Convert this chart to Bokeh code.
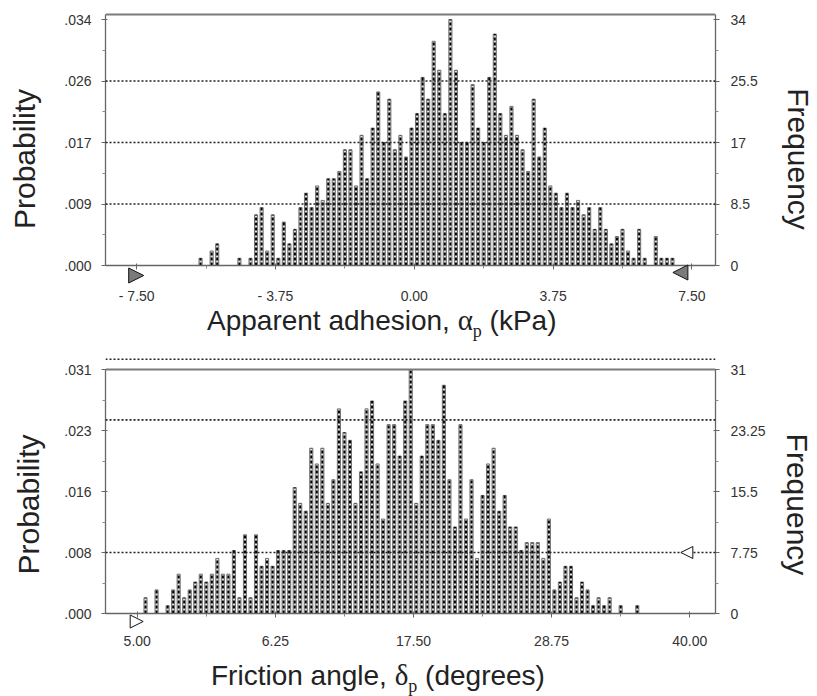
import numpy as np
from bokeh.plotting import figure
from bokeh.models import (LinearAxis, FixedTicker, Span, Arrow, NormalHead, Div,
                          ColumnDataSource, Range1d)
from bokeh.layouts import column
from bokeh.embed import file_html
from bokeh.resources import INLINE

# ---------------- data ----------------
# Panel 1: apparent adhesion (kPa), 100 bins from -7.5 to 7.5, frequencies out of 1000
adh_limits = [-7.5, 7.5]
adh_freq = [0, 0, 0, 0, 0, 0, 0, 0, 0, 0,
            0, 1, 0, 2, 3, 0, 0, 0, 1, 0,
            1, 7, 8, 2, 7, 1, 6, 3, 5, 8,
            10, 8, 11, 9, 12, 12, 13, 16, 16, 11,
            18, 12, 19, 24, 17, 23, 16, 18, 15, 19,
            21, 26, 23, 31, 27, 21, 34, 27, 17, 17,
            25, 19, 17, 26, 32, 21, 18, 22, 18, 16,
            13, 23, 15, 19, 11, 10, 8, 10, 8, 9,
            7, 8, 5, 8, 5, 3, 4, 5, 2, 1,
            5, 1, 0, 4, 1, 1, 1, 0, 0, 0]
adh_xtick_labels = ["- 7.50", "- 3.75", "0.00", "3.75", "7.50"]
adh_freq_ticks = [0, 8.5, 17, 25.5, 34]
adh_prob_labels = [".000", ".009", ".017", ".026", ".034"]
adh_freq_labels = ["0", "8.5", "17", "25.5", "34"]
adh_grid = [8.5, 17, 25.5]

# Panel 2: friction angle (degrees), 100 bins from 5 to 40
fric_limits = [5.0, 40.0]
fric_freq = [0, 2, 0, 3, 0, 1, 3, 5, 2, 3,
             4, 5, 4, 5, 7, 5, 5, 8, 2, 10,
             2, 10, 6, 7, 6, 8, 8, 8, 16, 14,
             13, 21, 19, 21, 14, 17, 26, 23, 22, 14,
             18, 26, 27, 19, 12, 24, 24, 20, 27, 31,
             14, 20, 24, 24, 22, 29, 17, 11, 24, 12,
             17, 7, 15, 19, 21, 13, 15, 11, 11, 8,
             9, 9, 9, 7, 12, 3, 4, 6, 6, 2,
             4, 3, 1, 2, 1, 2, 0, 1, 0, 0,
             1, 0, 0, 0, 0, 0, 0, 0, 0, 0]
fric_xtick_labels = ["5.00", "6.25", "17.50", "28.75", "40.00"]
fric_freq_ticks = [0, 7.75, 15.5, 23.25, 31]
fric_prob_labels = [".000", ".008", ".016", ".023", ".031"]
fric_freq_labels = ["0", "7.75", "15.5", "23.25", "31"]
fric_grid = [7.75, 24.6, 32.3]

FONT = "Liberation Sans"
AX = "#666666"


def style_axis(ax, standoff, label_standoff=22):
    ax.axis_line_color = AX
    ax.axis_line_width = 1.3
    ax.major_tick_line_color = AX
    ax.minor_tick_line_color = "#888888"
    ax.major_tick_in = 2
    ax.major_tick_out = 4
    ax.minor_tick_in = 0
    ax.minor_tick_out = 3
    ax.major_label_text_font = FONT
    ax.major_label_text_font_size = "14px"
    ax.major_label_text_color = "#333333"
    ax.major_label_standoff = standoff
    ax.axis_label_text_font = FONT
    ax.axis_label_text_font_size = "30px"
    ax.axis_label_text_font_style = "normal"
    ax.axis_label_text_color = "#222222"
    ax.axis_label_standoff = label_standoff


def mids(v):
    v = list(v)
    return [(a + b) / 2 for a, b in zip(v[:-1], v[1:])]


def make_panel(freq, limits, x_range, y_range, yticks, prob_labels, freq_labels,
               xtick_labels, grid, height, min_left, min_top, frame_top_level,
               left_label_standoff, right_label_standoff):
    freq = np.array(freq, dtype=float)
    lo, hi = limits
    n = len(freq)
    bw = (hi - lo) / n
    centers = lo + (np.arange(n) + 0.5) * bw
    m = freq > 0
    src = ColumnDataSource(dict(x=centers[m], top=freq[m], zero=np.zeros(m.sum())))

    p = figure(width=817, height=height, x_range=Range1d(*x_range),
               y_range=Range1d(*y_range), output_backend="svg",
               toolbar_location=None, min_border_left=min_left,
               min_border_right=817 - 715, min_border_top=min_top,
               min_border_bottom=0)
    p.xgrid.visible = False
    p.ygrid.visible = False
    p.outline_line_color = None
    p.background_fill_color = "white"

    p.vbar(x="x", top="top", bottom=0, width=bw * 0.56, source=src,
           fill_color="#e2e2e2", line_color="#6e6e6e", line_width=1)
    p.segment(x0="x", y0="zero", x1="x", y1="top", source=src,
              line_color="#000000", line_width=2, line_dash="3 2")

    for g in grid:
        p.add_layout(Span(location=g, dimension="width", line_color="#222222",
                          line_width=1.6, line_dash="2 2"))
    p.add_layout(Span(location=frame_top_level, dimension="width",
                      line_color="#7a7a7a", line_width=2))

    xt = list(np.linspace(lo, hi, len(xtick_labels)))
    p.xaxis.ticker = FixedTicker(ticks=xt, minor_ticks=mids(xt))
    p.xaxis.major_label_overrides = dict(zip(xt, xtick_labels))
    p.xaxis.fixed_location = 0
    style_axis(p.xaxis[0], 18)

    yt = list(yticks)
    p.yaxis.ticker = FixedTicker(ticks=yt, minor_ticks=mids(yt))
    p.yaxis.major_label_overrides = dict(zip(yt, prob_labels))
    p.yaxis.axis_label = "Probability"
    p.yaxis.bounds = (0, frame_top_level)
    style_axis(p.yaxis[0], 10, left_label_standoff)

    ra = LinearAxis(ticker=FixedTicker(ticks=yt, minor_ticks=mids(yt)),
                    major_label_overrides=dict(zip(yt, freq_labels)),
                    axis_label="Frequency", bounds=(0, frame_top_level))
    style_axis(ra, 11, right_label_standoff)
    p.add_layout(ra, "right")
    return p


def px_per_unit(rng, length):
    return length / (rng[1] - rng[0])


def add_limit_marker(p, x_tip, y, direction, size, fill):
    head = NormalHead(size=size, fill_color=fill, line_color="#111111", line_width=1)
    p.add_layout(Arrow(end=head, x_start=x_tip - direction * 0.5, y_start=y,
                       x_end=x_tip, y_end=y, line_alpha=0))


# ---------------- top panel ----------------
adh_xr = (-8.343, 8.138)
adh_yr = (-5.53, 34.98)
p1 = make_panel(adh_freq, adh_limits, adh_xr, adh_yr, adh_freq_ticks,
                adh_prob_labels, adh_freq_labels, adh_xtick_labels, adh_grid,
                height=305, min_left=105, min_top=12, frame_top_level=34.7,
                left_label_standoff=20, right_label_standoff=21)
kx1 = px_per_unit(adh_xr, 610)
ky1 = px_per_unit(adh_yr, 293)
add_limit_marker(p1, adh_limits[0] + 7 / kx1, -10 / ky1, 1, 15, "#7a7a7a")
add_limit_marker(p1, adh_limits[1] - 19 / kx1, -7 / ky1, -1, 15, "#7a7a7a")

# ---------------- bottom panel ----------------
fric_xr = (2.99, 41.63)
fric_yr = (-5.08, 32.78)
p2 = make_panel(fric_freq, fric_limits, fric_xr, fric_yr, fric_freq_ticks,
                fric_prob_labels, fric_freq_labels, fric_xtick_labels, fric_grid,
                height=308, min_left=100, min_top=10, frame_top_level=31,
                left_label_standoff=16, right_label_standoff=12)
kx2 = px_per_unit(fric_xr, 615)
ky2 = px_per_unit(fric_yr, 298)
add_limit_marker(p2, fric_limits[0] + 6 / kx2, -8 / ky2, 1, 13, "white")
add_limit_marker(p2, fric_limits[1] - 9 / kx2, fric_grid[0], -1, 12, "white")

TITLE = ("<div style=\"position:relative; left:{left}px; top:{top}px; "
         "font-family:'Liberation Sans', Arial, sans-serif; font-size:28px; "
         "line-height:32px; color:#222; white-space:nowrap;\">{a}"
         "<span style=\"font-family:'Liberation Serif', serif; font-size:29px;\">{g}</span>"
         "<span style=\"font-family:'Liberation Serif', serif; font-size:18px; "
         "position:relative; top:7px;\">p</span> {b}</div>")

d1 = Div(text=TITLE.format(left=207, top=-1, a="Apparent adhesion, ", g="α", b="(kPa)"),
         width=817, height=40, margin=(0, 0, 0, 0))
d2 = Div(text=TITLE.format(left=211, top=6, a="Friction angle, ", g="δ", b="(degrees)"),
         width=817, height=43, margin=(0, 0, 0, 0))

layout = column(p1, d1, p2, d2, spacing=0)
open("out.html", "w").write(file_html(layout, INLINE))
